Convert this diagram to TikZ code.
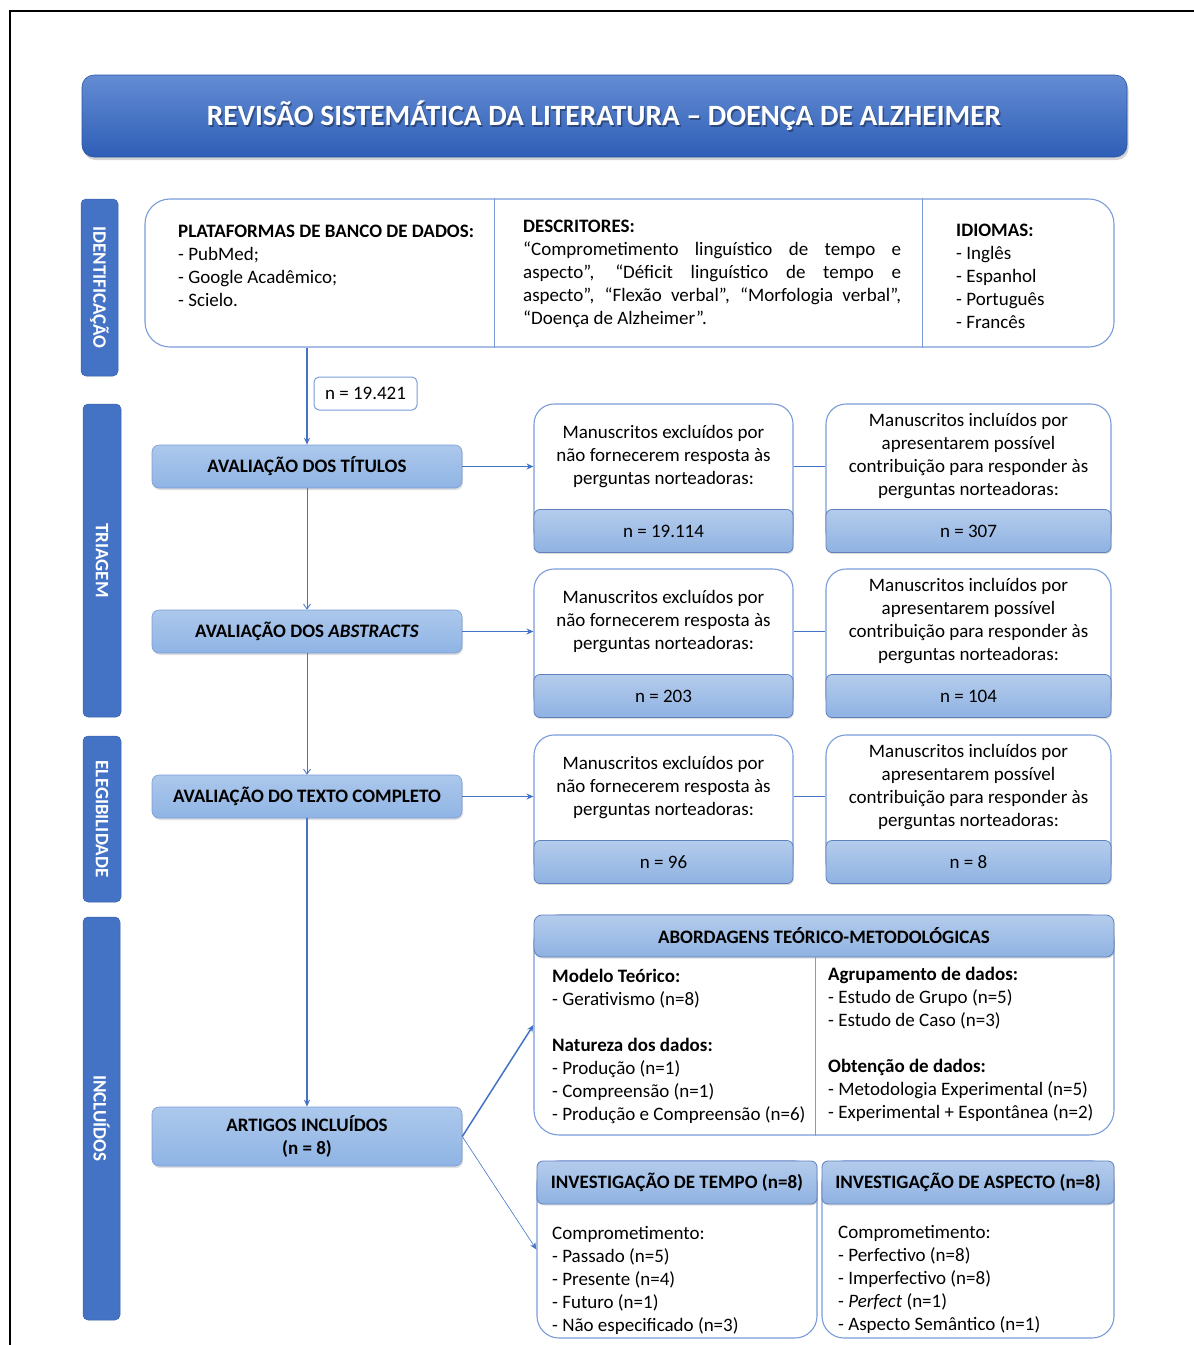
\documentclass[tikz,border=0pt]{standalone}
\usepackage{fontspec}
\setmainfont{Carlito}
\usetikzlibrary{arrows.meta,shadows,calc}

\definecolor{lineblue}{RGB}{68,114,196}
\definecolor{edgeblue}{RGB}{122,156,216}
\definecolor{bandtop}{RGB}{180,204,236}
\definecolor{bandbot}{RGB}{143,178,226}
\definecolor{bandedge}{RGB}{96,128,188}
\definecolor{proctop}{RGB}{172,200,236}
\definecolor{procbot}{RGB}{143,180,228}
\definecolor{sideblue}{RGB}{68,114,196}
\definecolor{titletop}{RGB}{100,140,212}
\definecolor{titlebot}{RGB}{46,94,182}

\newcommand\bodyfont{\fontsize{19}{23}\selectfont}
\newcommand\headfont{\fontsize{19}{23}\selectfont\bfseries}
\newcommand\titlefont{\fontsize{29.4}{35}\selectfont\bfseries}

\begin{document}
\begin{tikzpicture}[x=1pt,y=-1pt,
  whitebox/.style={draw=edgeblue, line width=1.1pt, fill=white, rounded corners=20pt, inner sep=0pt},
  band/.style={draw=bandedge, line width=0.8pt, top color=bandtop, bottom color=bandbot,
    rounded corners=6pt, inner sep=0pt, font=\bodyfont,
    drop shadow={opacity=0.25, shadow xshift=0.8pt, shadow yshift=-1.5pt}},
  headband/.style={band, font=\headfont},
  procbox/.style={draw=edgeblue, line width=0.6pt, top color=proctop, bottom color=procbot,
    rounded corners=7pt, inner sep=0pt, font=\headfont, align=center,
    drop shadow={opacity=0.25, shadow xshift=1pt, shadow yshift=-2pt}},
  sidelab/.style={fill=sideblue, draw=sideblue!85!black, line width=0.5pt, rounded corners=5pt,
    inner sep=0pt, text=white, font=\headfont, rotate=-90},
  plaintext/.style={inner sep=0pt, font=\bodyfont, align=left, anchor=north west},
  centertext/.style={inner sep=0pt, font=\bodyfont, align=center},
  conn/.style={draw=lineblue, line width=1.1pt},
  tipfull/.style={-{Stealth[length=7pt,width=6pt]}},
  tipopen/.style={-{Straight Barb[length=5pt,width=7pt]}}
]
\useasboundingbox (0,0) rectangle (1194,1345);

% page frame
\draw[line width=1.6pt] (10,1345) -- (10,11) -- (1194,11);

% title bar
\node[draw=titlebot!90!black, line width=0.6pt, top color=titletop, bottom color=titlebot,
  rounded corners=12pt, minimum width=1045pt, minimum height=82pt, inner sep=0pt,
  drop shadow={opacity=0.35, shadow xshift=1.5pt, shadow yshift=-3pt}] (titlebar) at (604.5,116) {};
\node[inner sep=0pt, font=\titlefont, text=black, opacity=0.35]
  (titleshade) at (605.5,118) {REVISÃO SISTEMÁTICA DA LITERATURA – DOENÇA DE ALZHEIMER};
\node[inner sep=0pt, font=\titlefont, text=white]
  (titletext) at (604,116) {REVISÃO SISTEMÁTICA DA LITERATURA – DOENÇA DE ALZHEIMER};

% phase labels
\node[sidelab, minimum width=177pt, minimum height=37pt] (lab1) at (99.5,287.5) {IDENTIFICAÇÃO};
\node[sidelab, minimum width=313pt, minimum height=38pt] (lab2) at (102,560.5) {TRIAGEM};
\node[sidelab, minimum width=166pt, minimum height=38pt] (lab3) at (102,819) {ELEGIBILIDADE};
\node[sidelab, minimum width=403pt, minimum height=37pt] (lab4) at (101.5,1118.5) {INCLUÍDOS};

% identification box
\node[whitebox, rounded corners=25pt, minimum width=969pt, minimum height=148pt] (top) at (629.5,273) {};
\draw[edgeblue, line width=1pt] (top.north -| 494,0) -- (top.south -| 494,0);
\draw[edgeblue, line width=1pt] (top.north -| 922,0) -- (top.south -| 922,0);
\node[plaintext] (plat) at (178,221.4) {\strut\textbf{PLATAFORMAS DE BANCO DE DADOS:}\\- PubMed;\\- Google Acadêmico;\\- Scielo.};
\node[plaintext, text width=378pt, align=justify] (desc) at (523,216.6)
  {\strut\textbf{DESCRITORES:}\\“Comprometimento linguístico de tempo e\linebreak
   aspecto”, “Déficit linguístico de tempo e\linebreak
   aspecto”, “Flexão verbal”, “Morfologia verbal”,\linebreak
   “Doença de Alzheimer”.};
\node[plaintext] (idio) at (956,220.2) {\strut\textbf{IDIOMAS:}\\- Inglês\\- Espanhol\\- Português\\- Francês};

% screening steps
\node[procbox, minimum width=310pt, minimum height=43pt] (tit) at (307,466.5) {AVALIAÇÃO DOS TÍTULOS};
\node[procbox, minimum width=310pt, minimum height=43pt] (abs) at (307,631.5) {AVALIAÇÃO DOS \textit{ABSTRACTS}};
\node[procbox, minimum width=310pt, minimum height=43pt] (txt) at (307,796.5) {AVALIAÇÃO DO TEXTO COMPLETO};
\node[procbox, minimum width=310pt, minimum height=59pt] (art) at (307,1136.5) {ARTIGOS INCLUÍDOS\\(n = 8)};

\node[draw=edgeblue, line width=1pt, rounded corners=5pt, fill=white, minimum width=103pt,
  minimum height=33pt, inner sep=0pt, font=\bodyfont] (ncount) at (365.5,393.5) {n = 19.421};

% excluded / included boxes, row by row
\foreach \r/\off/\nex/\nin in {1/0/19.114/307, 2/165/203/104, 3/331/96/8}{
  \node[whitebox, minimum width=259pt, minimum height=148pt] (ex\r) at (663.5,478+\off) {};
  \node[band, minimum width=259pt, minimum height=43pt] (ex\r n) at (663.5,531+\off) {n = \nex};
  \node[centertext] (ex\r t) at (663.5,456.5+\off) {Manuscritos excluídos por\\não fornecerem resposta às\\perguntas norteadoras:};
  \node[whitebox, minimum width=285pt, minimum height=148pt] (in\r) at (968.5,478+\off) {};
  \node[band, minimum width=285pt, minimum height=43pt] (in\r n) at (968.5,531+\off) {n = \nin};
  \node[centertext] (in\r t) at (968.5,456.5+\off) {Manuscritos incluídos por\\apresentarem possível\\contribuição para responder às\\perguntas norteadoras:};
}

% approaches box
\node[whitebox, rounded corners=25pt, minimum width=580pt, minimum height=220pt] (ab) at (824,1025) {};
\node[headband, rounded corners=8pt, minimum width=580pt, minimum height=42pt] (abh) at (824,936) {ABORDAGENS TEÓRICO-METODOLÓGICAS};
\draw[edgeblue, line width=1pt] (abh.south -| 815,0) -- (ab.south -| 815,0);
\node[plaintext] (abl) at (552,966) {\strut\textbf{Modelo Teórico:}\\- Gerativismo (n=8)\\[23pt]\textbf{Natureza dos dados:}\\- Produção (n=1)\\- Compreensão (n=1)\\- Produção e Compreensão (n=6)};
\node[plaintext] (abr) at (828,964) {\strut\textbf{Agrupamento de dados:}\\- Estudo de Grupo (n=5)\\- Estudo de Caso (n=3)\\[23pt]\textbf{Obtenção de dados:}\\- Metodologia Experimental (n=5)\\- Experimental + Espontânea (n=2)};

% tense and aspect boxes
\node[whitebox, rounded corners=22pt, minimum width=280pt, minimum height=177pt] (tempo) at (677,1249.5) {};
\node[headband, minimum width=280pt, minimum height=43pt] (tempoh) at (677,1182.5) {INVESTIGAÇÃO DE TEMPO (n=8)};
\node[plaintext] (tempot) at (552,1223) {\strut Comprometimento:\\- Passado (n=5)\\- Presente (n=4)\\- Futuro (n=1)\\- Não especificado (n=3)};
\node[whitebox, rounded corners=22pt, minimum width=292pt, minimum height=177pt] (asp) at (968,1249.5) {};
\node[headband, minimum width=292pt, minimum height=43pt] (asph) at (968,1182.5) {INVESTIGAÇÃO DE ASPECTO (n=8)};
\node[plaintext] (aspt) at (838,1222) {\strut Comprometimento:\\- Perfectivo (n=8)\\- Imperfectivo (n=8)\\- \textit{Perfect} (n=1)\\- Aspecto Semântico (n=1)};

% main flow
\draw[conn, line width=1.6pt, tipfull] (top.south -| tit.north) -- (tit.north);
\draw[conn, line width=0.8pt, tipopen] (tit.south) -- (abs.north);
\draw[conn, line width=0.8pt, tipopen] (abs.south) -- (txt.north);
\draw[conn, line width=1.2pt, tipfull] (txt.south) -- (art.north);

% branches to the right
\draw[conn, tipfull] (tit.east) -- (tit.east -| ex1.west);
\draw[conn, tipfull] (abs.east) -- (abs.east -| ex2.west);
\draw[conn, tipfull] (txt.east) -- (txt.east -| ex3.west);
\draw[conn] (tit.east -| ex1.east) -- (tit.east -| in1.west);
\draw[conn] (abs.east -| ex2.east) -- (abs.east -| in2.west);
\draw[conn] (txt.east -| ex3.east) -- (txt.east -| in3.west);

% included articles split
\draw[conn, line width=1.5pt, tipfull] (art.east) -- (ab.west);
\draw[conn, line width=0.6pt, tipfull] (art.east) -- (tempo.west);
\end{tikzpicture}
\end{document}
